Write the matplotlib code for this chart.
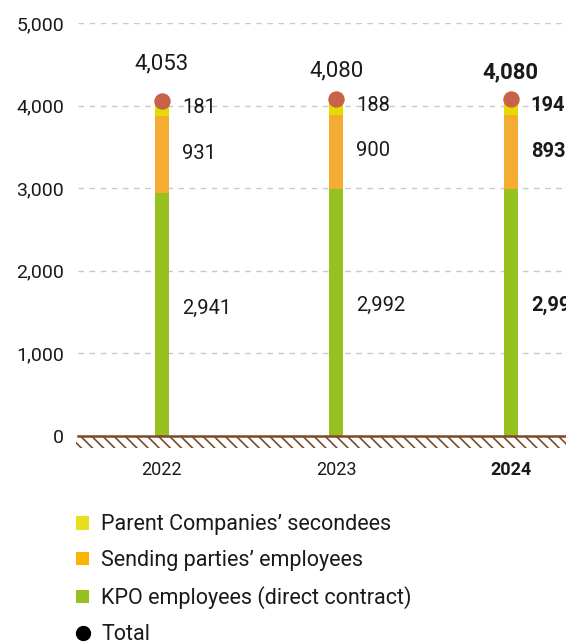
import numpy as np
import matplotlib
matplotlib.use("Agg")
import matplotlib.pyplot as plt
from matplotlib.patches import Rectangle, Patch
from matplotlib.lines import Line2D

plt.rcParams["font.family"] = ["Roboto", "DejaVu Sans"]

# Data
years = ["2022", "2023", "2024"]
kpo = [2941, 2992, 2993]
sending = [931, 900, 893]
parent = [181, 188, 194]
totals = [4053, 4080, 4080]
seg_labels_kpo = ["2,941", "2,992", "2,993"]
seg_labels_sending = ["931", "900", "893"]
seg_labels_parent = ["181", "188", "194"]
total_labels = ["4,053", "4,080", "4,080"]
yticks = [0, 1000, 2000, 3000, 4000, 5000]
ytick_labels = ["0", "1,000", "2,000", "3,000", "4,000", "5,000"]

c_kpo = "#96c11f"
c_send = "#f4ad32"
c_parent = "#e4dc00"
c_total = "#c8634a"
brown = "#7a4a2a"
text_c = "#1a1a1a"

fig = plt.figure(figsize=(5.66, 6.44), dpi=100)
ax = fig.add_axes([78 / 566, 208 / 644, (598 - 78) / 566, (436 - 23) / 644])

x = np.arange(len(years))
w = 0.08
ax.bar(x, kpo, w, color=c_kpo, zorder=3)
ax.bar(x, sending, w, bottom=kpo, color=c_send, zorder=3)
bottom2 = np.array(kpo) + np.array(sending)
ax.bar(x, parent, w, bottom=bottom2, color=c_parent, zorder=3)
ax.scatter(x, totals, s=140, color=c_total, zorder=4, linewidths=0)

ax.set_xlim(-0.48, 2.5)
ax.set_ylim(0, 5000)

for i in range(len(years)):
    weight = "bold" if i == 2 else "normal"
    xl = x[i] + 0.115
    ax.text(xl, kpo[i] / 2 + 80, seg_labels_kpo[i], ha="left", va="center",
            fontsize=14.5, color=text_c, weight=weight)
    ax.text(xl, kpo[i] + sending[i] / 2 + 10, seg_labels_sending[i], ha="left",
            va="center", fontsize=14.5, color=text_c, weight=weight)
    ax.text(xl, bottom2[i] + parent[i] / 2 + 20, seg_labels_parent[i], ha="left",
            va="center", fontsize=14.5, color=text_c, weight=weight)

offsets = [37, 28, 27]
for i in range(len(years)):
    weight = "bold" if i == 2 else "normal"
    ax.annotate(total_labels[i], (x[i], totals[i]), xytext=(0, offsets[i] * 0.72),
                textcoords="offset points", ha="center", va="center",
                fontsize=16, color=text_c, weight=weight)

# grid and axes
ax.set_yticks(yticks)
ax.set_yticklabels(ytick_labels, fontsize=14, color=text_c)
ax.yaxis.grid(True, linestyle=(0, (4, 4)), color="#c8c8c8", linewidth=1, zorder=0)
ax.set_xticks(x)
ax.set_xticklabels(years, fontsize=13, color=text_c)
ax.get_xticklabels()[2].set_fontweight("bold")
ax.tick_params(axis="y", length=0, pad=10)
ax.tick_params(axis="x", length=0, pad=18)
for s in ax.spines.values():
    s.set_visible(False)

# hatched ground
plt.rcParams["hatch.color"] = brown
plt.rcParams["hatch.linewidth"] = 1.2
ground = Rectangle((-0.49, -150), 3.2, 150, facecolor="none", edgecolor=brown,
                   hatch="\\\\\\", linewidth=0, clip_on=False, zorder=2)
ax.add_patch(ground)
ax.axhline(0, color=brown, linewidth=1.8, zorder=5, clip_on=False)

# legend
handles = [
    Patch(facecolor="#e8e01e", edgecolor="none"),
    Patch(facecolor="#fbb400", edgecolor="none"),
    Patch(facecolor="#95c11f", edgecolor="none"),
    Line2D([], [], marker="o", color="black", linestyle="none", markersize=10),
]
labels = ["Parent Companies’ secondees", "Sending parties’ employees",
          "KPO employees (direct contract)", "Total"]
leg = fig.legend(handles, labels, loc="upper left", bbox_to_anchor=(57 / 566, 1 - 495 / 644),
                 frameon=False, fontsize=15.5, handlelength=0.6, handleheight=0.6,
                 handletextpad=0.55, labelspacing=0.69, labelcolor=text_c)

fig.savefig("out.png", dpi=100)
